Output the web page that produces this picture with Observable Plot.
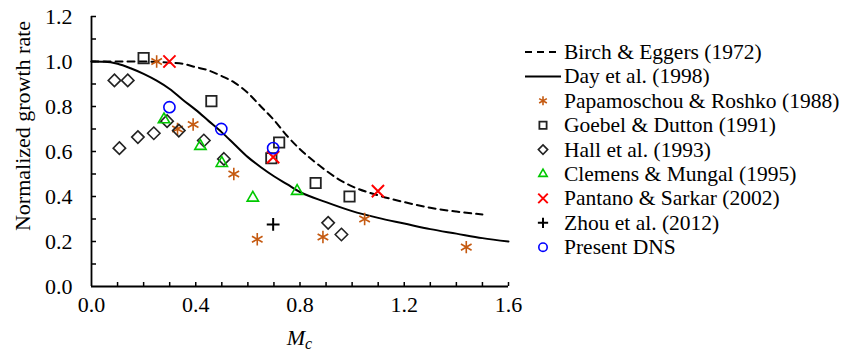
<!DOCTYPE html>
<html>
<head>
<meta charset="utf-8">
<script src="https://cdn.jsdelivr.net/npm/d3@7"></script>
<script src="https://cdn.jsdelivr.net/npm/@observablehq/plot@0.6"></script>
<style>
  html, body { margin: 0; padding: 0; background: white; }
  #chart { width: 842px; height: 355px; position: relative; }
</style>
</head>
<body>
<div id="chart"></div>
<script>
// ---- data ----
const xLabelTicks = [0, 0.4, 0.8, 1.2, 1.6];
const yLabelTicks = [0, 0.2, 0.4, 0.6, 0.8, 1.0, 1.2];
const xTickMarks = [0.1, 0.2, 0.3, 0.4, 0.5, 0.6, 0.7, 0.8, 0.9, 1.0, 1.1, 1.2, 1.3, 1.4, 1.5, 1.6];
const yTickMarks = [0.1, 0.2, 0.3, 0.4, 0.5, 0.6, 0.7, 0.8, 0.9, 1.0, 1.1, 1.2];

const birchX = [0, 0.1, 0.2, 0.3, 0.35, 0.4, 0.45, 0.5, 0.55, 0.6, 0.65, 0.7, 0.75, 0.8, 0.85, 0.9, 0.95, 1.0, 1.1, 1.2, 1.3, 1.4, 1.5];
const birchY = [1.0, 1.0, 1.0, 0.995, 0.99, 0.975, 0.96, 0.935, 0.905, 0.86, 0.80, 0.74, 0.67, 0.61, 0.56, 0.515, 0.475, 0.445, 0.405, 0.375, 0.35, 0.333, 0.32];

const dayX = [0, 0.05, 0.1, 0.15, 0.2, 0.25, 0.3, 0.35, 0.4, 0.45, 0.5, 0.55, 0.6, 0.65, 0.7, 0.75, 0.8, 0.9, 1.0, 1.1, 1.2, 1.3, 1.4, 1.5, 1.6];
const dayY = [1.0, 0.999, 0.99, 0.97, 0.945, 0.915, 0.878, 0.83, 0.785, 0.735, 0.685, 0.63, 0.575, 0.53, 0.49, 0.455, 0.42, 0.375, 0.335, 0.305, 0.28, 0.255, 0.235, 0.215, 0.20];

const papamoschou = [[0.25, 1.0], [0.33, 0.70], [0.39, 0.72], [0.546, 0.50], [0.636, 0.21], [0.888, 0.22], [1.048, 0.30], [1.438, 0.175]];
const goebel = [[0.20, 1.015], [0.46, 0.824], [0.72, 0.64], [0.69, 0.57], [0.86, 0.46], [0.99, 0.40]];
const hall = [[0.088, 0.916], [0.139, 0.916], [0.107, 0.615], [0.178, 0.664], [0.239, 0.681], [0.29, 0.735], [0.335, 0.693], [0.431, 0.649], [0.508, 0.567], [0.908, 0.283], [0.959, 0.231]];
const clemens = [[0.278, 0.742], [0.418, 0.624], [0.50, 0.548], [0.619, 0.394], [0.789, 0.424]];
const pantano = [[0.299, 1.0], [0.697, 0.575], [1.099, 0.424]];
const zhou = [[0.697, 0.276]];
const presentDNS = [[0.299, 0.797], [0.498, 0.70], [0.697, 0.615]];

const legendLabels = ["Birch & Eggers (1972)", "Day et al. (1998)", "Papamoschou & Roshko (1988)", "Goebel & Dutton (1991)", "Hall et al. (1993)", "Clemens & Mungal (1995)", "Pantano & Sarkar (2002)", "Zhou et al. (2012)", "Present DNS"];

// ---- styles ----
const FONT = "'Liberation Serif', 'Times New Roman', serif";
const orange = "#c55a11", green = "#00c800", red = "#ff0000", blue = "#0000ff", dark = "#222";
const seriesStyles = [
  {data: papamoschou, symbol: "asterisk", stroke: orange, r: 5.8, sw: 1.6, lr: 4.2},
  {data: goebel, symbol: "square2", stroke: dark, r: 6.6, sw: 1.8, lr: 4.6},
  {data: hall, symbol: "diamond2", stroke: dark, r: 5.6, sw: 1.6, lr: 4.2},
  {data: clemens, symbol: "triangle2", stroke: green, r: 5.4, sw: 1.6, lr: 4.0},
  {data: pantano, symbol: "times", stroke: red, r: 5.6, sw: 2, lr: 4.4},
  {data: zhou, symbol: "plus", stroke: "black", r: 4.2, sw: 2, lr: 3.4},
  {data: presentDNS, symbol: "circle", stroke: blue, r: 5.6, sw: 1.6, lr: 4.2}
];

const birch = birchX.map((x, i) => ({x, y: birchY[i]}));
const day = dayX.map((x, i) => ({x, y: dayY[i]}));

const W = 842, H = 355, mL = 91, mR = 334, mT = 16, mB = 69;
const plotW = W - mL - mR, plotH = H - mT - mB;

const chart = Plot.plot({
  width: W, height: H,
  marginLeft: mL, marginRight: mR, marginTop: mT, marginBottom: mB,
  x: {domain: [0, 1.6]},
  y: {domain: [0, 1.2]},
  style: {fontFamily: FONT, fontSize: "22px", color: "black", background: "white"},
  marks: [
    Plot.axisX({ticks: xLabelTicks, tickSize: 0, tickPadding: 10, tickFormat: d3.format(".1f"), label: null, fontFamily: FONT, fontSize: 22}),
    Plot.axisY({ticks: yLabelTicks, tickSize: 0, tickPadding: 19, tickFormat: d3.format(".1f"), label: null, fontFamily: FONT, fontSize: 22}),
    Plot.tickY(yTickMarks, {y: d => d, insetRight: plotW - 5, stroke: "black", strokeWidth: 1.5}),
    Plot.tickX(xTickMarks, {x: d => d, insetTop: plotH - 4, stroke: "black", strokeWidth: 1.5}),
    Plot.ruleX([0], {stroke: "black", strokeWidth: 1.8}),
    Plot.ruleY([0], {stroke: "black", strokeWidth: 1.8}),
    Plot.line(birch, {x: "x", y: "y", stroke: "black", strokeWidth: 2, strokeDasharray: "7,5", curve: "monotone-x"}),
    Plot.line(day, {x: "x", y: "y", stroke: "black", strokeWidth: 2, curve: "monotone-x"}),
    ...seriesStyles.map(s => Plot.dot(s.data, {x: d => d[0], y: d => d[1], symbol: s.symbol, r: s.r, stroke: s.stroke, fill: "none", strokeWidth: s.sw}))
  ]
});

document.getElementById("chart").appendChild(chart);

// axis titles and legend
const svg = d3.select(chart);
const styleText = sel => sel.attr("font-family", FONT).style("font-family", FONT);
styleText(svg.append("text")
  .attr("transform", "translate(30,126) rotate(-90)")
  .attr("text-anchor", "middle"))
  .style("font-size", "22px")
  .text("Normalized growth rate");

const mc = styleText(svg.append("text")
  .attr("x", mL + plotW / 2).attr("y", 345)
  .attr("text-anchor", "middle"))
  .style("font-size", "22px").style("font-style", "italic");
mc.append("tspan").text("M");
mc.append("tspan").attr("dy", 4).style("font-size", "16px").text("c");

const leg = svg.append("g");
const rowY = i => 52 + i * 24.4;
const symMap = {asterisk: d3.symbolAsterisk, square2: d3.symbolSquare2, diamond2: d3.symbolDiamond2, triangle2: d3.symbolTriangle2, times: d3.symbolTimes, plus: d3.symbolPlus, circle: d3.symbolCircle};
legendLabels.forEach((lab, i) => {
  const y = rowY(i);
  if (i === 0) {
    leg.append("line").attr("x1", 525).attr("x2", 561).attr("y1", y).attr("y2", y)
      .attr("stroke", "black").attr("stroke-width", 2).attr("stroke-dasharray", "7,5");
  } else if (i === 1) {
    leg.append("line").attr("x1", 525).attr("x2", 561).attr("y1", y).attr("y2", y)
      .attr("stroke", "black").attr("stroke-width", 2);
  } else {
    const s = seriesStyles[i - 2];
    leg.append("path")
      .attr("d", d3.symbol(symMap[s.symbol], Math.PI * s.lr * s.lr)())
      .attr("transform", `translate(543,${y})`)
      .attr("fill", "none").attr("stroke", s.stroke).attr("stroke-width", s.sw);
  }
  styleText(leg.append("text").attr("x", 564).attr("y", y + 7).attr("text-anchor", "start"))
    .style("font-size", "21.5px").text(lab);
});
</script>
</body>
</html>
